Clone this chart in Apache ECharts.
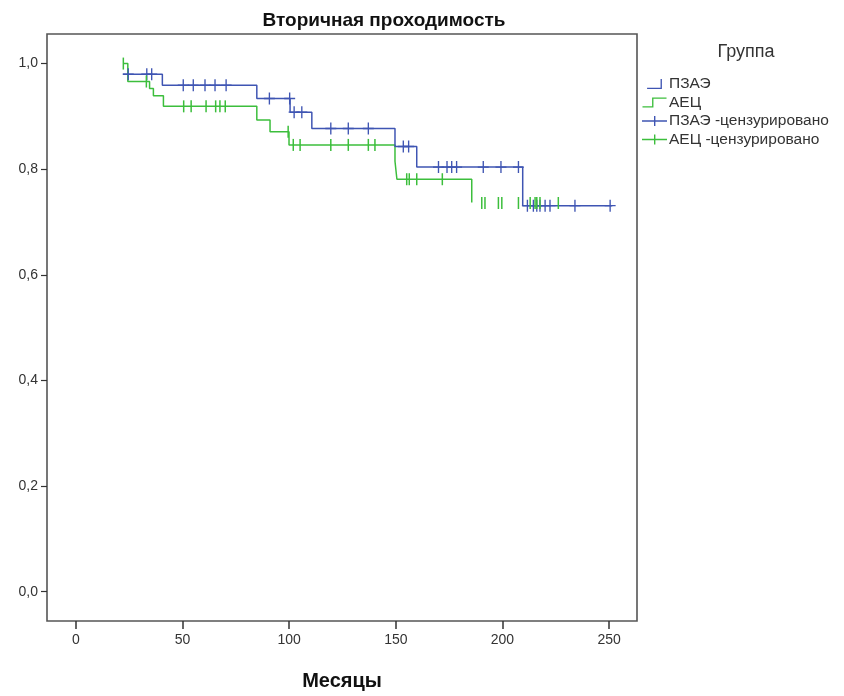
<!DOCTYPE html>
<html><head><meta charset="utf-8">
<script src="https://cdn.jsdelivr.net/npm/echarts@6/dist/echarts.min.js"></script>
<style>html,body{margin:0;padding:0;background:#fff;overflow:hidden}#c{width:844px;height:696px}</style>
</head><body><div id="c"></div>
<script>
// Kaplan–Meier step points (time, survival after event)
const blueTimes = [22.0, 40.5, 84.8, 100.4, 110.6, 149.6, 159.8, 209.5, 251.5];
const blueSurv  = [0.980, 0.959, 0.934, 0.908, 0.877, 0.843, 0.804, 0.731, 0.731];
const greenTimes = [22.2, 24.3, 34.5, 36.3, 41.0, 84.8, 91.0, 99.9, 149.6, 150.5, 185.6];
const greenSurv  = [1.0, 0.966, 0.953, 0.939, 0.919, 0.893, 0.871, 0.846, 0.815, 0.781, 0.737];
// censored marks
const blueCensT = [24.5, 33.2, 35.5, 50.3, 55.0, 60.5, 65.2, 70.4, 90.7, 100.2, 102.3, 105.9, 119.5, 127.7, 137.1, 153.5, 156.0, 170.0, 174.0, 176.2, 178.5, 191.0, 199.3, 207.5, 211.7, 214.5, 216.1, 217.6, 220.0, 222.3, 234.0, 250.5];
const blueCensS = [0.980, 0.980, 0.980, 0.959, 0.959, 0.959, 0.959, 0.959, 0.934, 0.934, 0.908, 0.908, 0.877, 0.877, 0.877, 0.843, 0.843, 0.804, 0.804, 0.804, 0.804, 0.804, 0.804, 0.804, 0.731, 0.731, 0.731, 0.731, 0.731, 0.731, 0.731, 0.731];
const greenCensT = [22.2, 33.0, 50.5, 54.0, 61.0, 65.5, 67.5, 70.0, 99.5, 101.9, 105.1, 119.5, 127.7, 137.1, 140.2, 155.1, 156.3, 159.8, 171.8, 190.3, 191.8, 198.1, 199.7, 207.5, 213.0, 215.3, 216.1, 217.6, 226.2];
const greenCensS = [1.0, 0.966, 0.919, 0.919, 0.919, 0.919, 0.919, 0.919, 0.871, 0.846, 0.846, 0.846, 0.846, 0.846, 0.846, 0.781, 0.781, 0.781, 0.781, 0.736, 0.736, 0.736, 0.736, 0.736, 0.736, 0.736, 0.736, 0.736, 0.736];
const xTicks = [0, 50, 100, 150, 200, 250];
const yTicks = [0, 0.2, 0.4, 0.6, 0.8, 1.0];
const seriesNames = ['ПЗАЭ', 'АЕЦ', 'ПЗАЭ -цензурировано', 'АЕЦ -цензурировано'];
const titleText = 'Вторичная проходимость';
const xName = 'Месяцы';
const legendTitle = 'Группа';

const BLUE = '#3F55B3', GREEN = '#3CBE3C';
const FONT = 'Liberation Sans, Arial, sans-serif';
const zip = (a, b) => a.map((v, i) => [v, b[i]]);
const crossPath = 'path://M5,0 h1.4 v5.3 h5 v1.4 h-5 v5.3 h-1.4 v-5.3 h-5 v-1.4 h5 z';
const tickPath = 'path://M0,0 h1.4 v12 h-1.4 z';

const chart = echarts.init(document.getElementById('c'), null, {renderer: 'canvas', width: 844, height: 696});
chart.setOption({
  animation: false,
  textStyle: {fontFamily: FONT},
  title: [
    {text: titleText, left: 379, top: 6, textAlign: 'center',
     textStyle: {fontSize: 19, fontWeight: 'bold', color: '#111', fontFamily: FONT}},
    {text: legendTitle, left: 741, top: 38, textAlign: 'center',
     textStyle: {fontSize: 18, fontWeight: 'normal', color: '#333', fontFamily: FONT}}
  ],
  legend: {
    orient: 'vertical', left: 642, top: 76, itemWidth: 25, itemHeight: 10, itemGap: 2.5, padding: 0,
    textStyle: {fontSize: 15.5, color: '#333', padding: [0, 0, 0, -3], fontFamily: FONT},
    data: [
      {name: seriesNames[0], icon: 'path://M0,9 h14 v-9 h1.4 v10.4 h-15.4 z'},
      {name: seriesNames[1], icon: 'path://M0,9 h10 v-9 h15 v1.4 h-13.6 v9 h-11.4 z'},
      {name: seriesNames[2], icon: 'path://M12,0 h1.4 v4.3 h11.6 v1.4 h-11.6 v4.3 h-1.4 v-4.3 h-12 v-1.4 h12 z'},
      {name: seriesNames[3], icon: 'path://M12,0 h1.4 v4.3 h11.6 v1.4 h-11.6 v4.3 h-1.4 v-4.3 h-12 v-1.4 h12 z'}
    ]
  },
  grid: {left: 47, width: 590, top: 34, height: 595, show: true, borderColor: '#555', borderWidth: 1.6, containLabel: false},
  xAxis: {
    type: 'value', min: -13.6, max: 263.1,
    name: xName, nameLocation: 'middle', nameGap: 50,
    nameTextStyle: {fontSize: 20, fontWeight: 'bold', color: '#111', fontFamily: FONT},
    axisLine: {show: false, onZero: false},
    axisTick: {show: true, inside: false, length: 8, customValues: xTicks, lineStyle: {color: '#333', width: 1.5}},
    axisLabel: {customValues: xTicks, fontSize: 14, color: '#333', margin: 12},
    splitLine: {show: false}
  },
  yAxis: {
    type: 'value', min: -0.0555, max: 1.056,
    axisLine: {show: false, onZero: false},
    axisTick: {show: true, inside: false, length: 6, customValues: yTicks, lineStyle: {color: '#333', width: 1.2}},
    axisLabel: {customValues: yTicks, fontSize: 14, color: '#333', margin: 9,
      formatter: v => v.toFixed(1).replace('.', ',')},
    splitLine: {show: false}
  },
  series: [
    {name: seriesNames[1], type: 'line', step: 'end', data: zip(greenTimes, greenSurv), showSymbol: false,
     lineStyle: {color: GREEN, width: 1.5}, itemStyle: {color: GREEN}, z: 2},
    {name: seriesNames[0], type: 'line', step: 'end', data: zip(blueTimes, blueSurv), showSymbol: false,
     lineStyle: {color: BLUE, width: 1.5}, itemStyle: {color: BLUE}, z: 3},
    {name: seriesNames[2], type: 'scatter', data: zip(blueCensT, blueCensS), symbol: crossPath,
     symbolSize: [11, 12], itemStyle: {color: BLUE, opacity: 1}, z: 4},
    {name: seriesNames[3], type: 'scatter', data: zip(greenCensT, greenCensS), symbol: tickPath,
     symbolSize: [1.5, 12], symbolKeepAspect: false, itemStyle: {color: GREEN, opacity: 1}, z: 5}
  ]
});
</script></body></html>
